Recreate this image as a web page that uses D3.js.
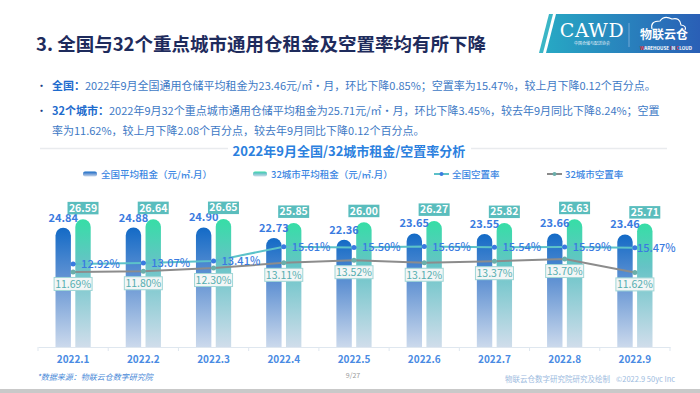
<!DOCTYPE html>
<html><head><meta charset="utf-8">
<script src="https://cdn.jsdelivr.net/npm/d3@7"></script>
<style>
html,body{margin:0;padding:0;background:#fff;}
svg{display:block;font-family:"Noto Sans CJK SC","Noto Sans",sans-serif;}
</style></head>
<body>
<svg id="chart" width="700" height="393"></svg>
<script>
const categories = ["2022.1","2022.2","2022.3","2022.4","2022.5","2022.6","2022.7","2022.8","2022.9"];
const nationalRent = [24.84,24.88,24.90,22.73,22.36,23.65,23.55,23.66,23.46];
const cityRent = [26.59,26.64,26.65,25.85,26.00,26.27,25.82,26.63,25.71];
const nationalVacancy = [12.92,13.07,13.41,15.61,15.50,15.65,15.54,15.59,15.47];
const cityVacancy = [11.69,11.80,12.30,13.11,13.52,13.12,13.37,13.70,11.62];
const seriesNames = ["全国平均租金（元/㎡.月）","32城市平均租金（元/㎡.月）","全国空置率","32城市空置率"];
const titleText = "3. 全国与32个重点城市通用仓租金及空置率均有所下降";
const chartTitle = "2022年9月全国/32城市租金/空置率分析";

const svg = d3.select("#chart");
const defs = svg.append("defs");

function vGrad(id, stops){
  const g = defs.append("linearGradient").attr("id",id).attr("x1",0).attr("y1",0).attr("x2",0).attr("y2",1);
  stops.forEach(s=>g.append("stop").attr("offset",s[0]).attr("stop-color",s[1]));
}
vGrad("gBlue",[[0,"#136ac6"],[0.45,"#6796d4"],[1,"#cbd9ec"]]);
vGrad("gTeal",[[0,"#36dea6"],[0.35,"#66c3c6"],[1,"#d0ddeb"]]);
const lg = defs.append("linearGradient").attr("id","gLogo").attr("x1",0).attr("y1",0).attr("x2",1).attr("y2",0);
lg.append("stop").attr("offset",0).attr("stop-color","#27a8c4");
lg.append("stop").attr("offset",1).attr("stop-color","#2a5fb6");

// Title
svg.append("text").attr("x",36).attr("y",51).attr("font-size",18.5).attr("font-weight","bold")
  .attr("fill","#1e2b5c").text(titleText);

// Logo
svg.append("polygon").attr("points","549,14 553,14 543,53 539,53").attr("fill","#3bb6c6");
svg.append("polygon").attr("points","556,14 700,14 700,53 546,53").attr("fill","url(#gLogo)");
svg.append("text").attr("x",592).attr("y",37).attr("text-anchor","middle").attr("font-size",19)
  .attr("font-family","'DejaVu Serif','Liberation Serif',serif").attr("font-weight",300).attr("fill","#fff")
  .attr("letter-spacing",0.5).text("CAWD");
svg.append("text").attr("x",592).attr("y",45).attr("text-anchor","middle").attr("font-size",4).attr("fill","#e6f0fa").text("中国仓储与配送协会");
svg.append("line").attr("x1",629).attr("x2",629).attr("y1",23).attr("y2",47).attr("stroke","#a9c8ea").attr("stroke-width",0.6);
svg.append("path").attr("d","M652,29 q-2,-8 8,-8 q4,-6 12,-2 q8,-2 9,6 q6,1 4,5")
  .attr("fill","none").attr("stroke","#fff").attr("stroke-width",1.2);
svg.append("text").attr("x",664).attr("y",38.5).attr("text-anchor","middle").attr("font-size",12).attr("font-weight","bold").attr("fill","#fff").text("物联云仓");
const wt = svg.append("text").attr("x",666).attr("y",49.5).attr("text-anchor","middle").attr("font-size",4.6).attr("font-weight","bold").attr("fill","#fff");
wt.append("tspan").attr("fill","#e8343a").text("W");
wt.append("tspan").text("AREHOUSE ");
wt.append("tspan").attr("fill","#e8343a").text("I");
wt.append("tspan").text("N ");
wt.append("tspan").attr("fill","#e8343a").text("C");
wt.append("tspan").text("LOUD");

// Bullet paragraphs
const bodyColor = "#3e79c5", boldColor = "#1d6bcd";
function para(y, bullet, parts){
  if(bullet) svg.append("text").attr("x",36).attr("y",y).attr("font-size",11).attr("fill","#1e3f86").text("•");
  const t = svg.append("text").attr("x",52).attr("y",y).attr("font-size",11).attr("fill",bodyColor);
  parts.forEach(p=>{
    const s = t.append("tspan").text(p[0]);
    if(p[1]) s.attr("font-weight","bold").attr("fill",boldColor);
  });
}
para(90,true,[["全国：",true],["2022年9月全国通用仓储平均租金为23.46元/㎡·月，环比下降0.85%；空置率为15.47%，较上月下降0.12个百分点。"]]);
para(115,true,[["32个城市：",true],["2022年9月32个重点城市通用仓储平均租金为25.71元/㎡·月，环比下降3.45%，较去年9月同比下降8.24%；空置"]]);
para(135,false,[["率为11.62%，较上月下降2.08个百分点，较去年9月同比下降0.12个百分点。"]]);

// Chart title
svg.append("line").attr("x1",40).attr("x2",228).attr("y1",148.5).attr("y2",148.5).attr("stroke","#e9ebee").attr("stroke-width",1.5);
svg.append("line").attr("x1",471).attr("x2",667).attr("y1",148.5).attr("y2",148.5).attr("stroke","#e9ebee").attr("stroke-width",1.5);
svg.append("text").attr("x",349).attr("y",156).attr("text-anchor","middle").attr("font-size",13).attr("font-weight","bold")
  .attr("fill","#2b80de").text(chartTitle);

// Legend
const legendColor = "#3a86e2";
const legendX = [83, 253, 434, 547];
legendX.forEach((lx,i)=>{
  const g = svg.append("g").attr("transform",`translate(${lx},174)`);
  if(i<2){
    g.append("rect").attr("x",0).attr("y",-2.5).attr("width",14).attr("height",5).attr("rx",2)
      .attr("fill", i===0?"url(#gBlue)":"url(#gTeal)");
  } else {
    g.append("line").attr("x1",0).attr("x2",15).attr("y1",0).attr("y2",0)
      .attr("stroke", i===2?"#5cc0c8":"#8a8a8a").attr("stroke-width",2);
    g.append("circle").attr("cx",7.5).attr("cy",0).attr("r",2).attr("fill", i===2?"#3a7be0":"#6aaeaa");
  }
  g.append("text").attr("x",18).attr("y",3.5).attr("font-size",9.5).attr("font-weight",500).attr("fill",legendColor).text(seriesNames[i]);
});

// Scales
const baseY = 347, topY = 203;
const x = d3.scaleBand().domain(categories).range([38,670]);
const sub = d3.scaleBand().domain(["n","c"]).range([0,35.2]).paddingInner(0.222);
const yRent = d3.scaleLinear().domain([0,30]).range([baseY,topY]);
const yVac = d3.scaleLinear().domain([0,22.43]).range([baseY,topY]);
const cx = c => x(c) + x.bandwidth()/2;
const bw = sub.bandwidth();

// Axis
const axis = d3.axisBottom(x).tickSize(0).tickPadding(9).tickFormat(d=>d);
const ag = svg.append("g").attr("transform",`translate(0,${baseY})`).call(axis);
ag.select(".domain").attr("stroke","#dfe7ef").attr("stroke-width",1);
ag.selectAll(".tick text").attr("font-size",10).attr("font-weight","bold").attr("fill","#4a8be3")
  .attr("font-family","'Noto Sans CJK SC','Noto Sans',sans-serif");
const bounds = categories.map(c=>x(c)).concat([x.range()[1]]);
svg.append("g").selectAll("line").data(bounds).join("line")
  .attr("x1",d=>d).attr("x2",d=>d).attr("y1",baseY).attr("y2",baseY+4).attr("stroke","#dfe7ef");

function barPath(x0, w, yTop, yBot){
  const r = w/2;
  return `M${x0},${yBot}L${x0},${yTop+r}A${r},${r} 0 0 1 ${x0+w},${yTop+r}L${x0+w},${yBot}Z`;
}
const gx = c => cx(c) - 17.6;

// Bars
svg.append("g").selectAll("path").data(categories).join("path")
  .attr("d",(c,i)=>barPath(gx(c)+sub("n"), bw, yRent(nationalRent[i]), baseY)).attr("fill","url(#gBlue)");
svg.append("g").selectAll("path").data(categories).join("path")
  .attr("d",(c,i)=>barPath(gx(c)+sub("c"), bw, yRent(cityRent[i]), baseY)).attr("fill","url(#gTeal)");

// Blue rent labels
svg.append("g").selectAll("text").data(categories).join("text")
  .attr("x",c=>gx(c)+sub("n")+bw/2).attr("y",(c,i)=>yRent(nationalRent[i])-6)
  .attr("text-anchor","middle").attr("font-size",11).attr("font-weight",600).attr("fill","#3a7be0")
  .text((c,i)=>nationalRent[i].toFixed(2));

// Teal rent label boxes
const tl = svg.append("g").selectAll("g").data(categories).join("g")
  .attr("transform",(c,i)=>`translate(${gx(c)+sub("c")+bw/2},${yRent(cityRent[i])-5})`);
tl.append("rect").attr("x",-15.5).attr("y",-12.5).attr("width",31).attr("height",12.5).attr("fill","#5abdbd");
tl.append("text").attr("x",0).attr("y",-2.6).attr("text-anchor","middle").attr("font-size",10.5).attr("font-weight","bold")
  .attr("fill","#fff").text((c,i)=>cityRent[i].toFixed(2));

// Lines
const lineN = d3.line().x(d=>cx(d.c)).y(d=>yVac(d.v));
const nData = categories.map((c,i)=>({c, v:nationalVacancy[i], i}));
const cData = categories.map((c,i)=>({c, v:cityVacancy[i], i}));
svg.append("path").datum(cData).attr("d",lineN).attr("fill","none").attr("stroke","#8c8c8c").attr("stroke-width",2);
svg.append("path").datum(nData).attr("d",lineN).attr("fill","none").attr("stroke","#5cc2c9").attr("stroke-width",2);
svg.append("g").selectAll("circle").data(cData).join("circle")
  .attr("cx",d=>cx(d.c)).attr("cy",d=>yVac(d.v)).attr("r",2.5).attr("fill","#6aaeaa");
svg.append("g").selectAll("circle").data(nData).join("circle")
  .attr("cx",d=>cx(d.c)).attr("cy",d=>yVac(d.v)).attr("r",2.5).attr("fill","#3a7be0");

// National vacancy labels
svg.append("g").selectAll("text").data(nData).join("text")
  .attr("x",d=>cx(d.c) + (d.i===categories.length-1?2:8)).attr("y",d=>yVac(d.v)+4)
  .attr("font-size",11).attr("font-weight",500).attr("fill","#3a7be0").text(d=>d.v.toFixed(2)+"%");

// City vacancy label boxes
const cl = svg.append("g").selectAll("g").data(cData).join("g")
  .attr("transform",d=>`translate(${cx(d.c)},${yVac(d.v)+5.5})`);
cl.append("rect").attr("x",-19).attr("y",0).attr("width",38).attr("height",13)
  .attr("fill","#f3f6f6").attr("stroke","#9fd6d6").attr("stroke-width",1);
cl.append("text").attr("x",0).attr("y",10.4).attr("text-anchor","middle").attr("font-size",10.5)
  .attr("fill","#55aeb0").text(d=>d.v.toFixed(2)+"%");

// Footer
svg.append("text").attr("x",37).attr("y",380).attr("font-size",8).attr("font-style","italic").attr("fill","#4a8ad8").text("*数据来源：物联云仓数字研究院");
svg.append("text").attr("x",353).attr("y",378).attr("text-anchor","middle").attr("font-size",7).attr("fill","#9a9a9a").text("9/27");
svg.append("text").attr("x",505).attr("y",382).attr("font-size",7.5).attr("fill","#9dbbe0").text("物联云仓数字研究院研究及绘制");
svg.append("text").attr("x",616).attr("y",382).attr("font-size",7.5).attr("fill","#9dbbe0").text("©2022.9 50yc Inc");
svg.append("rect").attr("x",0).attr("y",389).attr("width",700).attr("height",4).attr("fill","#c9c9c9");
</script>
</body></html>
